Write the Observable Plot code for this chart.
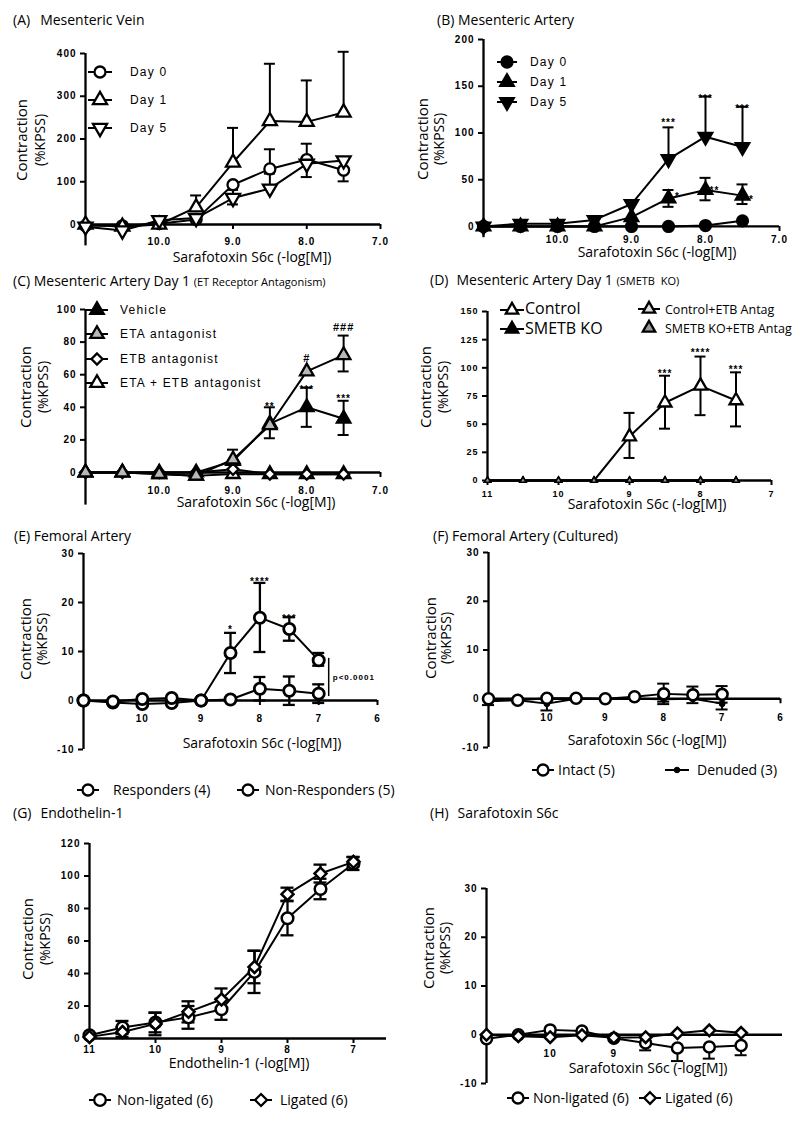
<!DOCTYPE html>
<html><head><meta charset="utf-8">
<script src="https://cdn.jsdelivr.net/npm/d3@7"></script>
<script src="https://cdn.jsdelivr.net/npm/@observablehq/plot@0.6"></script>
<style>
body{margin:0;background:#fff;}
#root{position:relative;width:800px;height:1121px;overflow:hidden;font-family:"Open Sans",sans-serif;color:#000;background:#fff;}
.abs{position:absolute;white-space:nowrap;line-height:1.2;}
#root svg text{letter-spacing:1px;font-weight:bold;}
.leg12{font-family:"Liberation Sans",Arial,sans-serif;font-size:12px;letter-spacing:1.2px;}
</style></head><body><div id="root"></div>
<script>
// ---------- DATA ----------
const conc8 = [11, 10.5, 10, 9.5, 9, 8.5, 8, 7.5];
const conc9 = [11, 10.5, 10, 9.5, 9, 8.5, 8, 7.5, 7];

// (A) Mesenteric Vein
const aLabels = ["Day 0", "Day 1", "Day 5"];
const aDay0 = [-3, -3, 2, 12, 93, 130, 152, 127];
const aDay0Up = [0, 0, 0, 0, 0, 46, 37, 0];
const aDay0Down = [0, 0, 0, 0, 0, 0, 0, 26];
const aDay1 = [0, -5, 0, 40, 145, 242, 240, 262];
const aDay1Up = [0, 0, 0, 28, 81, 134, 97, 142];
const aDay5 = [-5, -14, 10, 15, 62, 84, 142, 150];
const aDay5Up = [0, 0, 0, 0, 19, 35, 0, 0];
const aDay5Down = [0, 0, 0, 0, 15, 0, 31, 0];

// (B) Mesenteric Artery
const bLabels = ["Day 0", "Day 1", "Day 5"];
const bDay0 = [0, 0, 0, 0, 0, 0, 1, 6];
const bDay1 = [0, 0, 0, 0, 10, 30, 39, 33];
const bDay1Up = [0, 0, 0, 0, 0, 9, 13, 12];
const bDay1Down = [0, 0, 0, 0, 0, 9, 11, 9];
const bDay5 = [0, 3, 3, 7, 24, 72, 96, 85];
const bDay5Up = [0, 0, 0, 0, 0, 34, 43, 43];
const bStarsTop = [{x: 8.5, y: 113, t: "***"}, {x: 8, y: 138, t: "***"}, {x: 7.5, y: 128, t: "***"}];
const bStarsDay1 = [{x: 8.5, y: 34, t: "*"}, {x: 8, y: 40.6, t: "**"}, {x: 7.5, y: 30, t: "*"}];

// (C) Mesenteric Artery Day 1 (ET receptor antagonism)
const cLabels = ["Vehicle", "ETA antagonist", "ETB antagonist", "ETA + ETB antagonist"];
const cVehicle = [0, 0, 0, 0, 7, 30, 40, 33];
const cVehicleUp = [0, 0, 0, 0, 0, 10, 12, 11];
const cVehicleDown = [0, 0, 0, 0, 0, 9, 12, 10];
const cEta = [0, 0, -1, -2, 8, 29, 62, 72];
const cEtaUp = [0, 0, 0, 0, 6, 0, 0, 12];
const cEtaDown = [0, 0, 0, 0, 0, 0, 0, 10];
const cEtb = [0, 0, 0, 0, 2, -1, -1, -1];
const cEtaEtb = [0, 0, -1, -2, -1, -1, -1, -1];
const cStars = [{x: 8.5, y: 41.7, t: "**"}, {x: 8, y: 52, t: "***"}, {x: 7.5, y: 46.6, t: "***"}];
const cHashes = [{x: 8, y: 70, t: "#"}, {x: 7.5, y: 89, t: "###"}];

// (D) Mesenteric Artery Day 1 (SMETB KO)
const dLabels = ["Control", "SMETB KO", "Control+ETB Antag", "SMETB KO+ETB Antag"];
const dControl = [null, null, null, 0, 39, 69, 84, 71];
const dControlUp = [0, 0, 0, 0, 21, 24, 26, 25];
const dControlDown = [0, 0, 0, 0, 19, 23, 26, 23];
const dKO = [0, 0, 0, 0, 0, 0, 0, 0];
const dControlEtb = [0, 0, 0, 0, 0, 0, 0, 0];
const dKOEtb = [0, 0, 0, 0, 0, 0, 0, 0];
const dStars = [{x: 8.5, y: 96, t: "***"}, {x: 8, y: 115, t: "****"}, {x: 7.5, y: 100, t: "***"}];

// (E) Femoral Artery
const eLabels = ["Responders (4)", "Non-Responders (5)"];
const eResp = [0, -0.2, 0.3, 0.5, 0, 9.7, 16.9, 14.6, 8.2];
const eRespUp = [0, 0, 0, 0, 0, 4.1, 7.1, 2.4, 1.5];
const eRespDown = [0, 0, 0, 0, 0, 4.1, 7.0, 2.4, 1.1];
const eNon = [0, -0.4, -0.7, -0.5, 0, 0.2, 2.4, 2.0, 1.4];
const eNonErr = [0, 0, 0, 0, 0, 0, 2.4, 2.9, 1.9];
const eStars = [{x: 8.5, y: 14.7, t: "*"}, {x: 8, y: 24.5, t: "****"}, {x: 7.5, y: 17.1, t: "***"}];
const eBracket = [{x: 6.83, y1: 0.8, y2: 8.6}];
const ePText = [{x: 6.76, y: 4.7, t: "p<0.0001"}];

// (F) Femoral Artery (Cultured)
const fLabels = ["Intact (5)", "Denuded (3)"];
const fIntact = [0, -0.3, 0.1, 0.1, 0, 0.4, 1.0, 0.8, 0.9];
const fIntactErr = [0, 0, 0, 0, 0, 0, 2.1, 1.7, 1.7];
const fDenuded = [-0.5, -0.3, -1.0, 0, 0, 0, -0.1, 0, -1.0];
const fDenudedUp = [0, 0, 0, 0, 0, 0, 0.5, 0, 0];
const fDenudedDown = [0.8, 0, 1.4, 0, 0, 0, 0.5, 0, 1.2];

// (G) Endothelin-1
const gLabels = ["Non-ligated (6)", "Ligated (6)"];
const gNon = [2, 6.8, 9.8, 13, 18, 41, 74, 92, 107.7];
const gNonErr = [0, 4, 6, 7, 6.5, 13, 10.5, 6.3, 4];
const gLig = [1, 4, 9, 16.4, 24, 44, 88.8, 101.5, 108.7];
const gLigErr = [0, 3, 7, 6.5, 6.8, 10, 4, 5.5, 3];

// (H) Sarafotoxin S6c
const hLabels = ["Non-ligated (6)", "Ligated (6)"];
const hNon = [-0.8, 0, 1.0, 0.75, -0.7, -1.7, -2.7, -2.5, -2.2];
const hNonDown = [0, 0, 0, 0, 0, 1.5, 2.7, 2.4, 2.0];
const hLig = [0, -0.3, -0.5, -0.1, -0.6, -0.5, 0.3, 0.9, 0.4];

// ---------- HELPERS ----------
const root = document.getElementById("root");
const triDown = {draw(ctx, size) {
  const s3 = Math.sqrt(3); const y = -Math.sqrt(size / (s3 * 3));
  ctx.moveTo(0, -y * 2); ctx.lineTo(-s3 * y, y); ctx.lineTo(s3 * y, y); ctx.closePath();
}};
const CIRC = d3.symbolCircle, TRI = d3.symbolTriangle, DIA = d3.symbolDiamond2;
const f1 = d3.format(".1f"), fi = d => String(d);

function drawPanel(p) {
  const ml = 50, mr = 40, mt = 30, mb = 40;
  const W = p.px[1] - p.px[0], H = p.py[1] - p.py[0];
  const cw = p.cap ?? 5.5;
  const marks = [];
  marks.push(Plot.ruleX([p.xdom[0]], {x: d => d, y1: () => p.ydom[0], y2: () => p.ydom[1], strokeWidth: 2.3}));
  marks.push(Plot.ruleY([0], {y: d => d, strokeWidth: 2.3}));
  marks.push(Plot.axisY({ticks: p.yTicks, tickSize: 5, tickPadding: 4, strokeWidth: 2, tickFormat: fi,
    fontWeight: "bold", fontSize: p.yFont || 10, label: null}));
  if (p.xTickMarks && p.xTickMarks.length)
    marks.push(Plot.ruleX(p.xTickMarks, {x: d => d, y1: () => 0, y2: () => 0, insetBottom: -5, strokeWidth: 2}));
  marks.push(Plot.text(p.xTicks, {x: d => d, y: () => 0, text: p.xFmt, dy: p.xDy, fontWeight: "bold", fontSize: p.xFont || 10}));
  const rowsAll = p.series.map(s => s.x.map((x, i) => ({x, y: s.y[i], up: (s.up || [])[i] || 0, down: (s.down || [])[i] || 0})).filter(d => d.y != null));
  rowsAll.forEach((rows, k) => {
    const ups = rows.filter(d => d.up > 0), downs = rows.filter(d => d.down > 0);
    const sw = p.series[k].ew || 2;
    marks.push(Plot.ruleX(ups, {x: "x", y1: "y", y2: d => d.y + d.up, strokeWidth: sw}));
    marks.push(Plot.ruleY(ups, {y: d => d.y + d.up, x1: "x", x2: "x", insetLeft: -cw, insetRight: -cw, strokeWidth: sw}));
    marks.push(Plot.ruleX(downs, {x: "x", y1: d => d.y - d.down, y2: "y", strokeWidth: sw}));
    marks.push(Plot.ruleY(downs, {y: d => d.y - d.down, x1: "x", x2: "x", insetLeft: -cw, insetRight: -cw, strokeWidth: sw}));
  });
  rowsAll.forEach((rows, k) => {
    marks.push(Plot.line(rows, {x: "x", y: "y", strokeWidth: p.series[k].lw || 2}));
  });
  rowsAll.forEach((rows, k) => {
    const s = p.series[k];
    const dots = s.hideZero ? rows.filter(d => d.y !== 0) : rows;
    marks.push(Plot.dot(dots, {x: "x", y: "y", symbol: s.sym, r: s.r, fill: s.fill, stroke: "black", strokeWidth: s.sw || 2.3}));
  });
  (p.extra || []).forEach(m => marks.push(m));
  const svg = Plot.plot({
    width: W + ml + mr, height: H + mt + mb,
    marginLeft: ml, marginRight: mr, marginTop: mt, marginBottom: mb,
    x: {domain: p.xdom, axis: null},
    y: {domain: p.ydom, label: null},
    style: {fontFamily: "'Liberation Sans', Arial, sans-serif", fontSize: "10px", background: "none", overflow: "visible"},
    marks
  });
  svg.style.position = "absolute";
  svg.style.left = (p.px[0] - ml) + "px";
  svg.style.top = (p.py[0] - mt) + "px";
  svg.style.maxWidth = "none";
  root.appendChild(svg);
}

function stars(data, dy = 5, dx = 0, size = 10) {
  return Plot.text(data, {x: "x", y: "y", text: "t", dx, dy, lineAnchor: "bottom", fontWeight: "bold", fontSize: size});
}

function txt(html, left, top, style = {}, center = false) {
  const d = document.createElement("div");
  d.className = "abs";
  d.innerHTML = html;
  Object.assign(d.style, {left: left + "px", top: top + "px", transform: center ? "translate(-50%,-50%)" : "translateY(-50%)"}, style);
  root.appendChild(d);
  return d;
}
function ylab(cx1, cx2, cy) {
  txt("Contraction", cx1, cy, {fontSize: "15px", transform: "translate(-50%,-50%) rotate(-90deg)"});
  txt("(%KPSS)", cx2, cy, {fontSize: "14px", transform: "translate(-50%,-50%) rotate(-90deg)"});
}
function xlab(text, cx, cy) { txt(text, cx, cy, {fontSize: "14px", lineHeight: "1"}, true); }
function icon(cx, cy, sym, r, fill, half = 12, sw = 2.3) {
  const s = d3.create("svg").attr("width", 2 * half + 12).attr("height", 24)
    .style("position", "absolute").style("left", (cx - half - 6) + "px").style("top", (cy - 12) + "px").style("overflow", "visible");
  s.append("line").attr("x1", 6).attr("x2", 2 * half + 6).attr("y1", 12).attr("y2", 12).attr("stroke", "black").attr("stroke-width", 2);
  s.append("path").attr("transform", `translate(${half + 6},12)`).attr("d", d3.symbol(sym, Math.PI * r * r)())
    .attr("fill", fill).attr("stroke", "black").attr("stroke-width", sw);
  root.appendChild(s.node());
}

// ---------- PANELS ----------
// A
drawPanel({px: [85, 380], py: [53, 245.4], xdom: [11, 7], ydom: [-50, 400], yTicks: [0, 100, 200, 300, 400],
  xTicks: [10, 9, 8, 7], xTickMarks: [10, 9, 8, 7], xFmt: f1, xDy: 17,
  series: [
    {x: conc8, y: aDay0, up: aDay0Up, down: aDay0Down, sym: CIRC, r: 5.5, fill: "white"},
    {x: conc8, y: aDay1, up: aDay1Up, sym: TRI, r: 5.2, fill: "white"},
    {x: conc8, y: aDay5, up: aDay5Up, down: aDay5Down, sym: triDown, r: 5.2, fill: "white"}
  ]});
// B
drawPanel({px: [483, 779], py: [39, 237.2], xdom: [11, 7], ydom: [-12, 200], yTicks: [0, 50, 100, 150, 200],
  xTicks: [10, 9, 8, 7], xTickMarks: [10, 9, 8, 7], xFmt: f1, xDy: 13,
  series: [
    {x: conc8, y: bDay0, sym: CIRC, r: 5.5, fill: "black"},
    {x: conc8, y: bDay1, up: bDay1Up, down: bDay1Down, sym: TRI, r: 5, fill: "black"},
    {x: conc8, y: bDay5, up: bDay5Up, sym: triDown, r: 5, fill: "black"}
  ],
  extra: [stars(bStarsTop, 5), stars(bStarsDay1, 5, 9)]});
// C
drawPanel({px: [85, 380], py: [309, 504.6], xdom: [11, 7], ydom: [-20, 100], yTicks: [0, 20, 40, 60, 80, 100],
  xTicks: [10, 9, 8, 7], xTickMarks: [10, 9, 8, 7], xFmt: f1, xDy: 18,
  series: [
    {x: conc8, y: cEtaEtb, sym: TRI, r: 5, fill: "white"},
    {x: conc8, y: cEtb, sym: DIA, r: 5, fill: "white"},
    {x: conc8, y: cVehicle, up: cVehicleUp, down: cVehicleDown, sym: TRI, r: 5, fill: "black"},
    {x: conc8, y: cEta, up: cEtaUp, down: cEtaDown, sym: TRI, r: 5, fill: "#b8b8b8"}
  ],
  extra: [stars(cStars, 5), stars(cHashes, 4, 0, 11)]});
// D
drawPanel({px: [487, 771], py: [311, 480], xdom: [11, 7], ydom: [0, 150], yTicks: [0, 25, 50, 75, 100, 125, 150], yFont: 9,
  xTicks: [11, 10, 9, 8, 7], xTickMarks: [11, 10, 9, 8, 7], xFmt: fi, xDy: 14, xFont: 9,
  series: [
    {x: conc8, y: dControl, up: dControlUp, down: dControlDown, sym: TRI, r: 4.8, fill: "white", hideZero: true},
    {x: conc8, y: dKO, sym: TRI, r: 2.3, fill: "black", sw: 1.5},
    {x: conc8, y: dControlEtb, sym: TRI, r: 2.3, fill: "#ddd", sw: 1.5},
    {x: conc8, y: dKOEtb, sym: TRI, r: 2.3, fill: "#999", sw: 1.5}
  ],
  extra: [stars(dStars, 5)]});
// E
drawPanel({px: [83, 377], py: [553, 749], xdom: [11, 6], ydom: [-10, 30], yTicks: [-10, 0, 10, 20, 30],
  xTicks: [10, 9, 8, 7, 6], xTickMarks: [10, 9, 8, 7, 6], xFmt: fi, xDy: 18, cap: 6,
  series: [
    {x: conc9, y: eNon, up: eNonErr, down: eNonErr, sym: CIRC, r: 5.6, fill: "white", sw: 2.8, ew: 2.3},
    {x: conc9, y: eResp, up: eRespUp, down: eRespDown, sym: CIRC, r: 5.6, fill: "white", sw: 2.8, ew: 2.3}
  ],
  extra: [stars(eStars, 5),
    Plot.ruleX(eBracket, {x: "x", y1: "y1", y2: "y2", strokeWidth: 1.5}),
    Plot.text(ePText, {x: "x", y: "y", text: "t", textAnchor: "start", fontSize: 8})]});
// F
drawPanel({px: [488, 780], py: [552, 747], xdom: [11, 6], ydom: [-10, 30], yTicks: [-10, 0, 10, 20, 30],
  xTicks: [10, 9, 8, 7, 6], xTickMarks: [10, 9, 8, 7, 6], xFmt: fi, xDy: 19, cap: 6,
  series: [
    {x: conc9, y: fDenuded, up: fDenudedUp, down: fDenudedDown, sym: CIRC, r: 3, fill: "black", sw: 1},
    {x: conc9, y: fIntact, up: fIntactErr, down: fIntactErr, sym: CIRC, r: 5.5, fill: "white", sw: 2.6}
  ]});
// G
drawPanel({px: [89, 386], py: [843, 1038], xdom: [11, 6.5], ydom: [0, 120], yTicks: [0, 20, 40, 60, 80, 100, 120],
  xTicks: [11, 10, 9, 8, 7], xTickMarks: [11, 10, 9, 8, 7], xFmt: fi, xDy: 11, cap: 6.5,
  series: [
    {x: conc9, y: gNon, up: gNonErr, down: gNonErr, sym: CIRC, r: 5.8, fill: "white", sw: 2.5, ew: 2.3},
    {x: conc9, y: gLig, up: gLigErr, down: gLigErr, sym: DIA, r: 5.4, fill: "white", sw: 2.5, ew: 2.3}
  ]});
// H
drawPanel({px: [486, 782], py: [888, 1083], xdom: [11, 6.35], ydom: [-10, 30], yTicks: [-10, 0, 10, 20, 30],
  xTicks: [10, 9], xTickMarks: [], xFmt: fi, xDy: 19, cap: 6,
  series: [
    {x: conc9, y: hNon, down: hNonDown, sym: CIRC, r: 5.5, fill: "white", sw: 2.5},
    {x: conc9, y: hLig, sym: DIA, r: 5.2, fill: "white", sw: 2.5}
  ]});

// ---------- TEXT: titles, axis labels, legends ----------
const T = {fontSize: "14px"};
txt('(A)<span style="margin-left:10px">Mesenteric Vein</span>', 13, 20, T);
txt('(B) Mesenteric Artery', 437, 20, T);
txt('(C) Mesenteric Artery Day 1 <span style="font-size:11px">(ET Receptor Antagonism)</span>', 13, 281, T);
txt('(D)<span style="margin-left:8px">Mesenteric Artery Day 1</span> <span style="font-size:11px">(SMETB&nbsp; KO)</span>', 430, 280, T);
txt('(E) Femoral Artery', 14, 536, T);
txt('(F) Femoral Artery (Cultured)', 433, 536, T);
txt('(G)<span style="margin-left:9px">Endothelin-1</span>', 13, 813, T);
txt('(H)<span style="margin-left:9px">Sarafotoxin S6c</span>', 430, 813, T);

ylab(21, 40, 140); ylab(422, 439, 139);
ylab(25, 43, 387); ylab(425, 443, 387);
ylab(25, 42, 639); ylab(430, 446, 638);
ylab(27, 45, 939); ylab(428, 445, 948);

const xs = "Sarafotoxin S6c (-log[M])";
xlab(xs, 252, 257); xlab(xs, 657, 252);
xlab(xs, 256, 502); xlab(xs, 647, 504);
xlab(xs, 262, 743); xlab(xs, 647, 740);
xlab("Endothelin-1 (-log[M])", 239, 1063); xlab(xs, 648, 1068);

// A legend
[[CIRC, 5.5, "white"], [TRI, 5.2, "white"], [triDown, 5.2, "white"]].forEach(([s, r, f], i) => {
  const y = 72 + i * 28; icon(100, y, s, r, f); txt(aLabels[i], 130, y, {}, false).className = "abs leg12";
});
// B legend
[[CIRC, 5.5, "black"], [TRI, 5, "black"], [triDown, 5, "black"]].forEach(([s, r, f], i) => {
  const y = 62 + i * 20; icon(507, y, s, r, f, 10); txt(bLabels[i], 530, y).className = "abs leg12";
});
// C legend
[[TRI, 5, "black"], [TRI, 5, "#b8b8b8"], [DIA, 5, "white"], [TRI, 5, "white"]].forEach(([s, r, f], i) => {
  const y = [310, 334, 359, 383][i]; icon(97, y, s, r, f, 11); txt(cLabels[i], 120, y).className = "abs leg12";
});
// D legend
icon(512, 310, TRI, 4.6, "white", 12); txt(dLabels[0], 525, 309, {fontSize: "16px"});
icon(512, 329, TRI, 4.6, "black", 12); txt(dLabels[1], 525, 329, {fontSize: "16px"});
icon(649, 309, TRI, 4.6, "#ddd", 11); txt(dLabels[2], 665, 309, {fontSize: "12.5px"});
icon(649, 328, TRI, 4.6, "#999", 0.01); txt(dLabels[3], 665, 328, {fontSize: "12.5px"});
// E legend
icon(88, 790, CIRC, 5.5, "white", 11); txt(eLabels[0], 113, 790, {fontSize: "14px"});
icon(248, 790, CIRC, 5.5, "white", 11); txt(eLabels[1], 265, 790, {fontSize: "14px"});
// F legend
icon(543, 770, CIRC, 5.5, "white", 11); txt(fLabels[0], 558, 770, {fontSize: "14px"});
icon(677, 770, CIRC, 2.8, "black", 12, 1); txt(fLabels[1], 697, 770, {fontSize: "14px"});
// G legend
icon(100, 1100, CIRC, 5.8, "white", 11); txt(gLabels[0], 117, 1100, {fontSize: "14px"});
icon(261, 1100, DIA, 5.4, "white", 11); txt(gLabels[1], 280, 1100, {fontSize: "14px"});
// H legend
icon(518, 1098, CIRC, 5.5, "white", 11); txt(hLabels[0], 533, 1098, {fontSize: "14px"});
icon(650, 1098, DIA, 5.2, "white", 11); txt(hLabels[1], 665, 1098, {fontSize: "14px"});
</script></body></html>
